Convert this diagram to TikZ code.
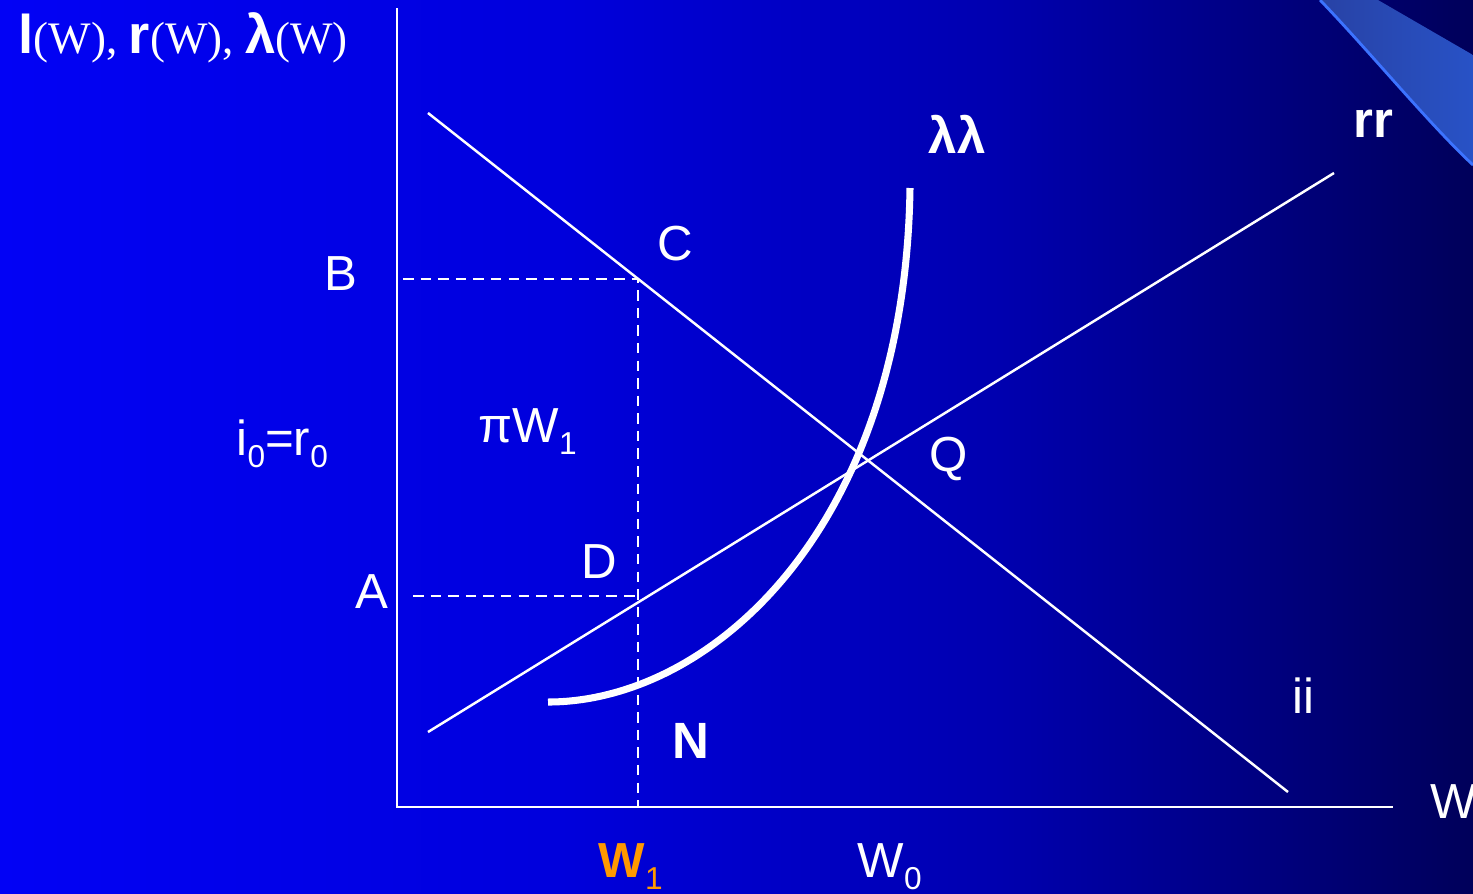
\documentclass[tikz,border=0pt]{standalone}
\usepackage{fontspec}
\setmainfont{Liberation Sans}
\newfontfamily\serifpart{Liberation Serif}
\definecolor{wone}{RGB}{255,153,0}
\definecolor{bgA}{RGB}{2,2,245}
\definecolor{bgB}{RGB}{0,0,220}
\definecolor{bgC}{RGB}{0,0,175}
\definecolor{bgD}{RGB}{0,0,90}
\definecolor{bandL}{RGB}{40,66,165}
\definecolor{bandR}{RGB}{40,82,198}
\definecolor{bandEdge}{RGB}{60,115,255}
\newcommand\lsub[1]{\raisebox{-3.6pt}{\fontsize{9}{9}\selectfont #1}}
\begin{document}
\begin{tikzpicture}[x=0.01cm,y=-0.01cm,
  lbl/.style={text=white,inner sep=0pt,anchor=base,font=\fontsize{14}{14}\selectfont},
  blbl/.style={lbl,font=\fontsize{14.5}{14.5}\selectfont\bfseries},
  thinline/.style={white,line width=0.7pt},
  axisline/.style={white,line width=0.8pt},
  guide/.style={white,line width=0.8pt,dash pattern=on 3pt off 2pt},
  lamcurve/.style={white,line width=2pt}]
% background
\shade[left color=bgA,right color=bgB] (0,0) rectangle (561,893);
\shade[left color=bgB,right color=bgC] (560,0) rectangle (1001,893);
\shade[left color=bgC,right color=bgD] (1000,0) rectangle (1473,893);
\useasboundingbox (0,0) rectangle (1473,893);
% top-right decoration
\shade[left color=bandL,right color=bandR] (1320,0) .. controls (1370,52) and (1430,125) .. (1473,165) -- (1473,55) -- (1378,0) -- cycle;
\draw[bandEdge,line width=0.8pt] (1320,0) .. controls (1370,52) and (1430,125) .. (1473,165);
% coordinates
\coordinate (O) at (397,807);
\coordinate (ytop) at (397,8);
\coordinate (xend) at (1393,807);
\coordinate (ii0) at (428,113);
\coordinate (ii1) at (1288,792);
\coordinate (rr0) at (428,732);
\coordinate (rr1) at (1334,173);
\coordinate (Cpt) at (638,279);
\coordinate (Bd) at (403,279);
\coordinate (Ad) at (413,596);
\coordinate (Dd) at (638,596);
\coordinate (W1pt) at (638,807);
\coordinate (l0) at (548,702);
\coordinate (l1) at (910,188);
% axes
\draw[axisline] (ytop) -- (O) -- (xend);
% guides
\draw[guide] (Bd) -- (Cpt) -- (W1pt);
\draw[guide] (Ad) -- (Dd);
% lines
\draw[thinline] (ii0) -- (ii1);
\draw[thinline] (rr0) -- (rr1);
\draw[lamcurve] (l0) .. controls (710,702) and (905,530) .. (l1);
% labels
\node[lbl,anchor=base west] (ylab) at (18,53) {{\fontsize{15.5}{15.5}\selectfont\bfseries l}{\serifpart\fontsize{12.8}{12.8}\selectfont(W), }{\fontsize{15.5}{15.5}\selectfont\bfseries r}{\serifpart\fontsize{12.8}{12.8}\selectfont(W), }{\fontsize{15.5}{15.5}\selectfont\bfseries λ}{\serifpart\fontsize{12.8}{12.8}\selectfont(W)}};
\node[blbl] (lamlab) at (957,153) {λλ};
\node[blbl] (rrlab) at (1373,137) {rr};
\node[lbl] (Clab) at (675,260) {C};
\node[lbl] (Blab) at (341,290) {B};
\node[lbl] (Qlab) at (949,471) {Q};
\node[lbl] (Dlab) at (599,578) {D};
\node[lbl] (Alab) at (372,608) {A};
\node[blbl] (Nlab) at (691,758) {N};
\node[lbl] (iilab) at (1303,713) {ii};
\node[lbl,anchor=base west] (Wlab) at (1430,818) {W};
\node[lbl,anchor=base west] (W0lab) at (857,877) {W\lsub{0}};
\node[lbl,anchor=base west,text=wone] (W1lab) at (598,877) {{\bfseries W}\lsub{1}};
\node[lbl,anchor=base west] (irlab) at (236,455) {i\lsub{0}=r\lsub{0}};
\node[lbl,anchor=base west] (piW) at (478,442) {πW\lsub{1}};
\end{tikzpicture}
\end{document}
